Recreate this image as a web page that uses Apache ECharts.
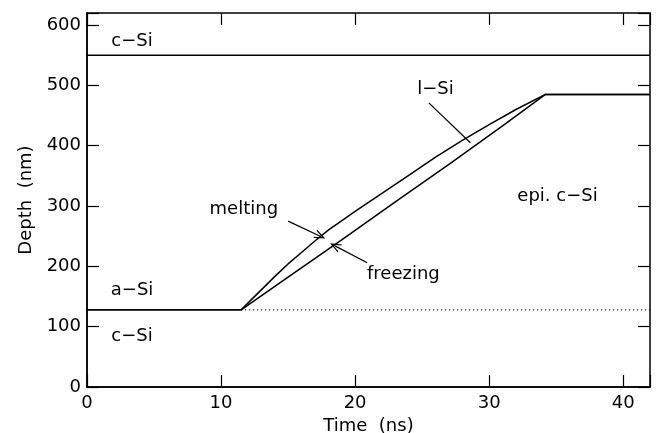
<!DOCTYPE html>
<html><head><meta charset="utf-8">
<script src="https://cdn.jsdelivr.net/npm/echarts@6/dist/echarts.min.js"></script>
<style>html,body{margin:0;padding:0;background:#fff}#c{width:660px;height:433px}</style>
</head><body><div id="c"></div>
<script>
// Melting front (upper curve)
const timeMelt  = [0, 11.5, 12, 13, 14, 15, 16, 17, 18, 20, 22, 24, 26, 28, 30, 32, 34.2, 42];
const depthMelt = [128, 128, 139, 161, 183, 204, 223, 242, 260, 291, 321, 351, 381, 409, 435, 460, 485, 485];
// Freezing front (lower curve)
const timeFreeze  = [0, 11.5, 15, 19, 23, 27, 31, 34.2, 42];
const depthFreeze = [128, 128, 182, 244, 307, 369, 433, 485, 485];
// Original a-Si / c-Si interface (dotted) and top c-Si boundary
const interfaceTime = [11.5, 42];
const interfaceDepth = [128, 128];
const topTime = [0, 42];
const topDepth = [550, 550];
// Axis ticks
const xTicks = [0, 10, 20, 30, 40];
const yTicks = [0, 100, 200, 300, 400, 500, 600];
// Text labels [time, depth, text]
const labelTime  = [3.36, 3.36, 3.36, 11.7, 23.6, 26.0, 35.1];
const labelDepth = [573, 161, 84, 294, 186, 493, 316];
const labelText  = ['c\u2212Si', 'a\u2212Si', 'c\u2212Si', 'melting', 'freezing', 'l\u2212Si', 'epi. c\u2212Si'];
// Pointer lines [fromTime, fromDepth, toTime, toDepth]
const arrowMelt   = [15.0, 275, 17.4, 250];
const arrowFreeze = [20.9, 206, 18.5, 234];
const pointerLSi  = [25.5, 471, 28.6, 405];

const zip = (a, b) => a.map((v, i) => [v, b[i]]);
const FONT = 'DejaVu Sans';
const FS = 18;
const chevron = 'path://M0,10 L5,0 L10,10 L8.6,10 L5,2.8 L1.4,10 Z';

function makeAxis(extra) {
  return Object.assign({
    type: 'value', min: 0,
    axisLine: {show: true, onZero: false, lineStyle: {color: '#000', width: 1.5}},
    axisTick: {show: true, inside: true, length: 12, lineStyle: {color: '#000', width: 1.2}},
    splitLine: {show: false}
  }, extra);
}
const makeGrid = () => ({left: 87, right: 10, top: 13, bottom: 46, containLabel: false, outerBoundsMode: 'none'});

const chart = echarts.init(document.getElementById('c'));
chart.setOption({
  animation: false,
  grid: [makeGrid(), makeGrid(), makeGrid()],
  xAxis: [
    makeAxis({gridIndex: 0, max: 42, interval: 10, position: 'bottom', axisTick: {show: false},
      name: 'Time  (ns)', nameLocation: 'middle', nameGap: 27,
      nameTextStyle: {fontFamily: FONT, fontSize: FS, color: '#000'},
      axisLabel: {fontFamily: FONT, fontSize: FS, color: '#000', margin: 7,
        formatter: v => xTicks.includes(v) ? String(v) : ''}}),
    makeAxis({gridIndex: 1, max: 42, interval: 10, position: 'top', axisLabel: {show: false}}),
    makeAxis({gridIndex: 2, max: 42, interval: 10, position: 'bottom', axisLabel: {show: false}})
  ],
  yAxis: [
    makeAxis({gridIndex: 0, max: 620, interval: 100, position: 'left', axisTick: {show: false},
      name: 'Depth  (nm)', nameLocation: 'middle', nameGap: 50,
      nameTextStyle: {fontFamily: FONT, fontSize: FS, color: '#000'},
      axisLabel: {fontFamily: FONT, fontSize: FS, color: '#000', margin: 6,
        formatter: v => yTicks.includes(v) ? String(v) : ''}}),
    makeAxis({gridIndex: 1, max: 620, interval: 100, position: 'right', axisLabel: {show: false}}),
    makeAxis({gridIndex: 2, max: 620, interval: 100, position: 'left', axisLabel: {show: false}})
  ],
  series: [
    {type: 'line', data: zip(timeMelt, depthMelt), symbol: 'none',
     lineStyle: {color: '#000', width: 1.5}},
    {type: 'line', data: zip(timeFreeze, depthFreeze), symbol: 'none',
     lineStyle: {color: '#000', width: 1.5}},
    {type: 'line', data: zip(topTime, topDepth), symbol: 'none',
     lineStyle: {color: '#000', width: 1.5}},
    {type: 'line', data: zip(interfaceTime, interfaceDepth), symbol: 'none',
     lineStyle: {color: '#000', width: 1.2, type: [1, 3]}},
    {type: 'scatter', symbolSize: 0, silent: true, itemStyle: {opacity: 1},
     data: labelTime.map((t, i) => ({value: [t, labelDepth[i]], name: labelText[i]})),
     label: {show: true, position: 'inside', formatter: p => p.name, opacity: 1,
       fontFamily: FONT, fontSize: FS, color: '#000'},
     markLine: {silent: true, symbol: ['none', chevron], symbolSize: [9, 11],
       lineStyle: {color: '#000', width: 1.2, type: 'solid', opacity: 1}, label: {show: false},
       data: [
         [{coord: [arrowMelt[0], arrowMelt[1]]}, {coord: [arrowMelt[2], arrowMelt[3]]}],
         [{coord: [arrowFreeze[0], arrowFreeze[1]]}, {coord: [arrowFreeze[2], arrowFreeze[3]]}],
         [{coord: [pointerLSi[0], pointerLSi[1]], symbol: 'none'}, {coord: [pointerLSi[2], pointerLSi[3]], symbol: 'none'}]
       ]}}
  ]
});
</script></body></html>
